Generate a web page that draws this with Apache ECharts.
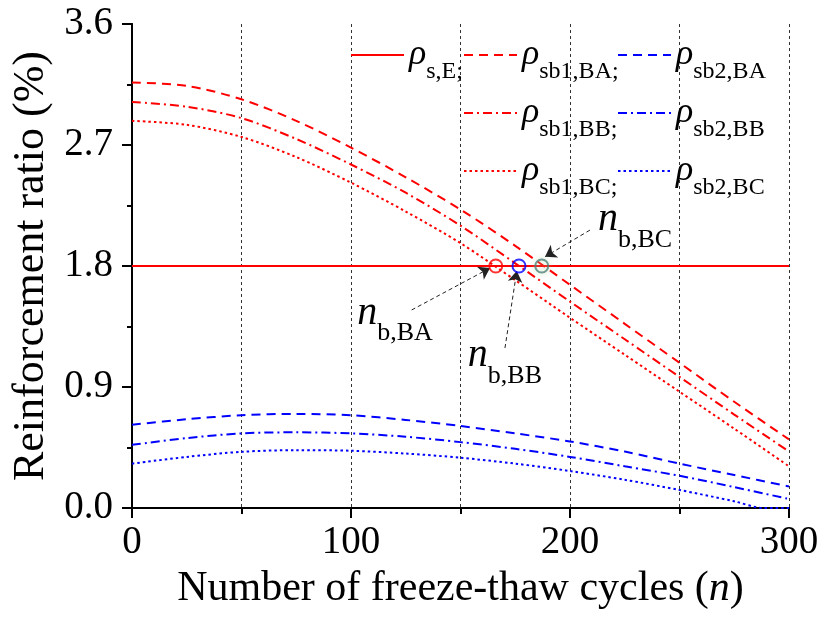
<!DOCTYPE html>
<html><head><meta charset="utf-8">
<script src="https://cdn.jsdelivr.net/npm/echarts@6/dist/echarts.min.js"></script>
<style>html,body{margin:0;padding:0;background:#fff}#c{width:827px;height:617px}</style>
</head><body><div id="c"></div>
<script>
// ---------- data ----------
const cycles = [0, 25, 50, 75, 100, 125, 150, 175, 200, 225, 250, 275, 300];
const rhoSE = [1.8, 1.8, 1.8, 1.8, 1.8, 1.8, 1.8, 1.8, 1.8, 1.8, 1.8, 1.8, 1.8];
const rhoSb1BA = [3.165, 3.14, 3.04, 2.88, 2.68, 2.46, 2.22, 1.95, 1.66, 1.37, 1.08, 0.79, 0.51];
const rhoSb1BB = [3.02, 2.985, 2.90, 2.745, 2.555, 2.345, 2.10, 1.82, 1.535, 1.255, 0.975, 0.695, 0.42];
const rhoSb1BC = [2.88, 2.85, 2.76, 2.61, 2.42, 2.205, 1.97, 1.695, 1.415, 1.14, 0.865, 0.59, 0.31];
const rhoSb2BA = [0.62, 0.66, 0.69, 0.70, 0.69, 0.655, 0.61, 0.555, 0.495, 0.42, 0.33, 0.245, 0.16];
const rhoSb2BB = [0.47, 0.52, 0.555, 0.563, 0.555, 0.53, 0.49, 0.44, 0.38, 0.31, 0.24, 0.155, 0.067];
const cyclesSb2BC = [0, 25, 50, 75, 100, 125, 150, 175, 200, 225, 250, 275, 288, 300];
const rhoSb2BC = [0.33, 0.38, 0.418, 0.43, 0.426, 0.405, 0.374, 0.33, 0.275, 0.21, 0.134, 0.05, 0, 0];
const crossCycles = [166.1, 176.7, 187.1];
const crossRho = [1.8, 1.8, 1.8];
const seriesNames = ['ρs,E', 'ρsb1,BA', 'ρsb1,BB', 'ρsb1,BC', 'ρsb2,BA', 'ρsb2,BB', 'ρsb2,BC'];
const legendSubs = ['s,E;', 'sb1,BA;', 'sb1,BB;', 'sb1,BC;', 'sb2,BA', 'sb2,BB', 'sb2,BC'];
const crossLabels = ['b,BA', 'b,BB', 'b,BC'];

// ---------- helpers ----------
const FONT = '"Liberation Serif", "Times New Roman", serif';
const zip = (xs, ys) => xs.map((x, i) => [x, ys[i]]);
const RED = '#ff0000', BLUE = '#0000ff';
const DASH = [9, 6], DASHDOT = [9, 4, 2, 4], DOT = [2.5, 3];

function lineSeries(name, xs, ys, color, dash) {
  return {
    name: name, type: 'line', data: zip(xs, ys), smooth: 0.3, symbol: 'none',
    lineStyle: { color: color, width: 2, type: dash }, itemStyle: { color: color },
    emphasis: { disabled: true }, silent: true, z: 3
  };
}

const legendRich = {
  r: { fontFamily: FONT, fontStyle: 'italic', fontSize: 36, lineHeight: 36, color: '#000' },
  s: { fontFamily: FONT, fontSize: 24, lineHeight: 24, padding: [34, 0, 0, 0], color: '#000' }
};
function legendBlock(left, names) {
  return {
    left: left, top: 26, orient: 'vertical', padding: 0, itemGap: 0,
    itemWidth: 53, itemHeight: 14, selectedMode: false,
    itemStyle: { opacity: 0 },
    data: names,
    formatter: function (n) { return '{r|ρ}{s|' + legendSubs[seriesNames.indexOf(n)] + '}'; },
    textStyle: { rich: legendRich }
  };
}

const labelRich = {
  n: { fontFamily: FONT, fontStyle: 'italic', fontSize: 40, lineHeight: 40, color: '#000' },
  s: { fontFamily: FONT, fontSize: 26, lineHeight: 26, padding: [41, 0, 0, 0], color: '#000' }
};
function nLabel(coord, sub) {
  return {
    coord: coord, symbol: 'rect', symbolSize: 1, itemStyle: { color: 'rgba(0,0,0,0)' },
    label: { show: true, position: 'inside', formatter: '{n|n}{s|' + sub + '}', rich: labelRich }
  };
}

const axisBlack = { lineStyle: { color: '#000', width: 2 } };
const gridDash = { show: true, lineStyle: { color: '#333', width: 1, type: [3, 3] } };

const option = {
  animation: false,
  backgroundColor: '#fff',
  grid: { left: 132, right: 38, top: 24, bottom: 109 },
  legend: [
    legendBlock(350, [seriesNames[0]]),
    legendBlock(463, [seriesNames[1], seriesNames[2], seriesNames[3]]),
    legendBlock(617, [seriesNames[4], seriesNames[5], seriesNames[6]])
  ],
  xAxis: [{
    type: 'value', min: 0, max: 300, interval: 100, position: 'bottom',
    axisLine: axisBlack,
    axisTick: { show: true, inside: false, length: 10, lineStyle: { color: '#000', width: 2 } },
    minorTick: { show: true, splitNumber: 2, length: 6, lineStyle: { color: '#000', width: 2 } },
    splitLine: gridDash, minorSplitLine: gridDash,
    axisLabel: { fontFamily: FONT, fontSize: 39, color: '#000', margin: 15 },
    name: 'Number of freeze-thaw cycles ({i|n})', nameLocation: 'middle', nameGap: 60,
    nameTextStyle: { fontFamily: FONT, fontSize: 42, color: '#000',
      rich: { i: { fontFamily: FONT, fontSize: 42, fontStyle: 'italic', color: '#000' } } }
  }, {
    type: 'value', min: 0, max: 300, interval: 100, position: 'top',
    axisLine: axisBlack,
    axisTick: { show: true, inside: true, length: 8, lineStyle: { color: '#000', width: 2 } },
    minorTick: { show: true, splitNumber: 2, length: 4, lineStyle: { color: '#000', width: 2 } },
    splitLine: { show: false }, axisLabel: { show: false }
  }],
  yAxis: [{
    type: 'value', min: 0, max: 3.6, interval: 0.9, position: 'left',
    axisLine: axisBlack,
    axisTick: { show: true, inside: false, length: 10, lineStyle: { color: '#000', width: 2 } },
    minorTick: { show: true, splitNumber: 2, length: 5, lineStyle: { color: '#000', width: 2 } },
    splitLine: { show: false },
    axisLabel: { fontFamily: FONT, fontSize: 39, color: '#000', margin: 19,
      formatter: function (v) { return v.toFixed(1); } },
    name: 'Reinforcement ratio (%)', nameLocation: 'middle', nameGap: 71,
    nameTextStyle: { fontFamily: FONT, fontSize: 44, color: '#000' }
  }, {
    type: 'value', min: 0, max: 3.6, interval: 0.9, position: 'right',
    axisLine: axisBlack,
    axisTick: { show: true, inside: true, length: 9, lineStyle: { color: '#000', width: 2 } },
    minorTick: { show: true, splitNumber: 2, length: 4, lineStyle: { color: '#000', width: 2 } },
    splitLine: { show: false }, axisLabel: { show: false }
  }],
  series: [
    lineSeries(seriesNames[0], cycles, rhoSE, RED, 'solid'),
    lineSeries(seriesNames[1], cycles, rhoSb1BA, RED, DASH),
    lineSeries(seriesNames[2], cycles, rhoSb1BB, RED, DASHDOT),
    lineSeries(seriesNames[3], cycles, rhoSb1BC, RED, DOT),
    lineSeries(seriesNames[4], cycles, rhoSb2BA, BLUE, DASH),
    lineSeries(seriesNames[5], cycles, rhoSb2BB, BLUE, DASHDOT),
    lineSeries(seriesNames[6], cyclesSb2BC, rhoSb2BC, BLUE, DOT),
    {
      name: 'crossings', type: 'scatter', silent: true, z: 5,
      symbol: 'circle', symbolSize: 13,
      data: zip(crossCycles, crossRho).map(function (p, i) {
        const c = [RED, BLUE, '#4f7f77'][i];
        return { value: p, itemStyle: { color: 'rgba(255,255,255,0)', borderColor: c, borderWidth: 2,
          shadowBlur: i === 2 ? 6 : 0, shadowColor: 'rgba(170,210,160,0.9)' } };
      }),
      markLine: {
        silent: true, symbol: ['none', 'arrow'], symbolSize: 11,
        label: { show: false },
        lineStyle: { color: '#222', width: 1, type: [4, 3] },
        emphasis: { disabled: true },
        data: [
          [{ coord: [127.7, 1.473] }, { coord: [163.5, 1.785] }],
          [{ coord: [170.3, 1.19] }, { coord: [175.7, 1.763] }],
          [{ coord: [209.1, 2.067] }, { coord: [188.6, 1.869] }]
        ]
      },
      markPoint: {
        silent: true,
        data: [
          nLabel([120.1, 1.450], crossLabels[0]),
          nLabel([170.3, 1.134], crossLabels[1]),
          nLabel([229.7, 2.146], crossLabels[2])
        ]
      }
    }
  ]
};

const chart = echarts.init(document.getElementById('c'), null, { renderer: 'canvas' });
chart.setOption(option);
</script>
</body></html>
